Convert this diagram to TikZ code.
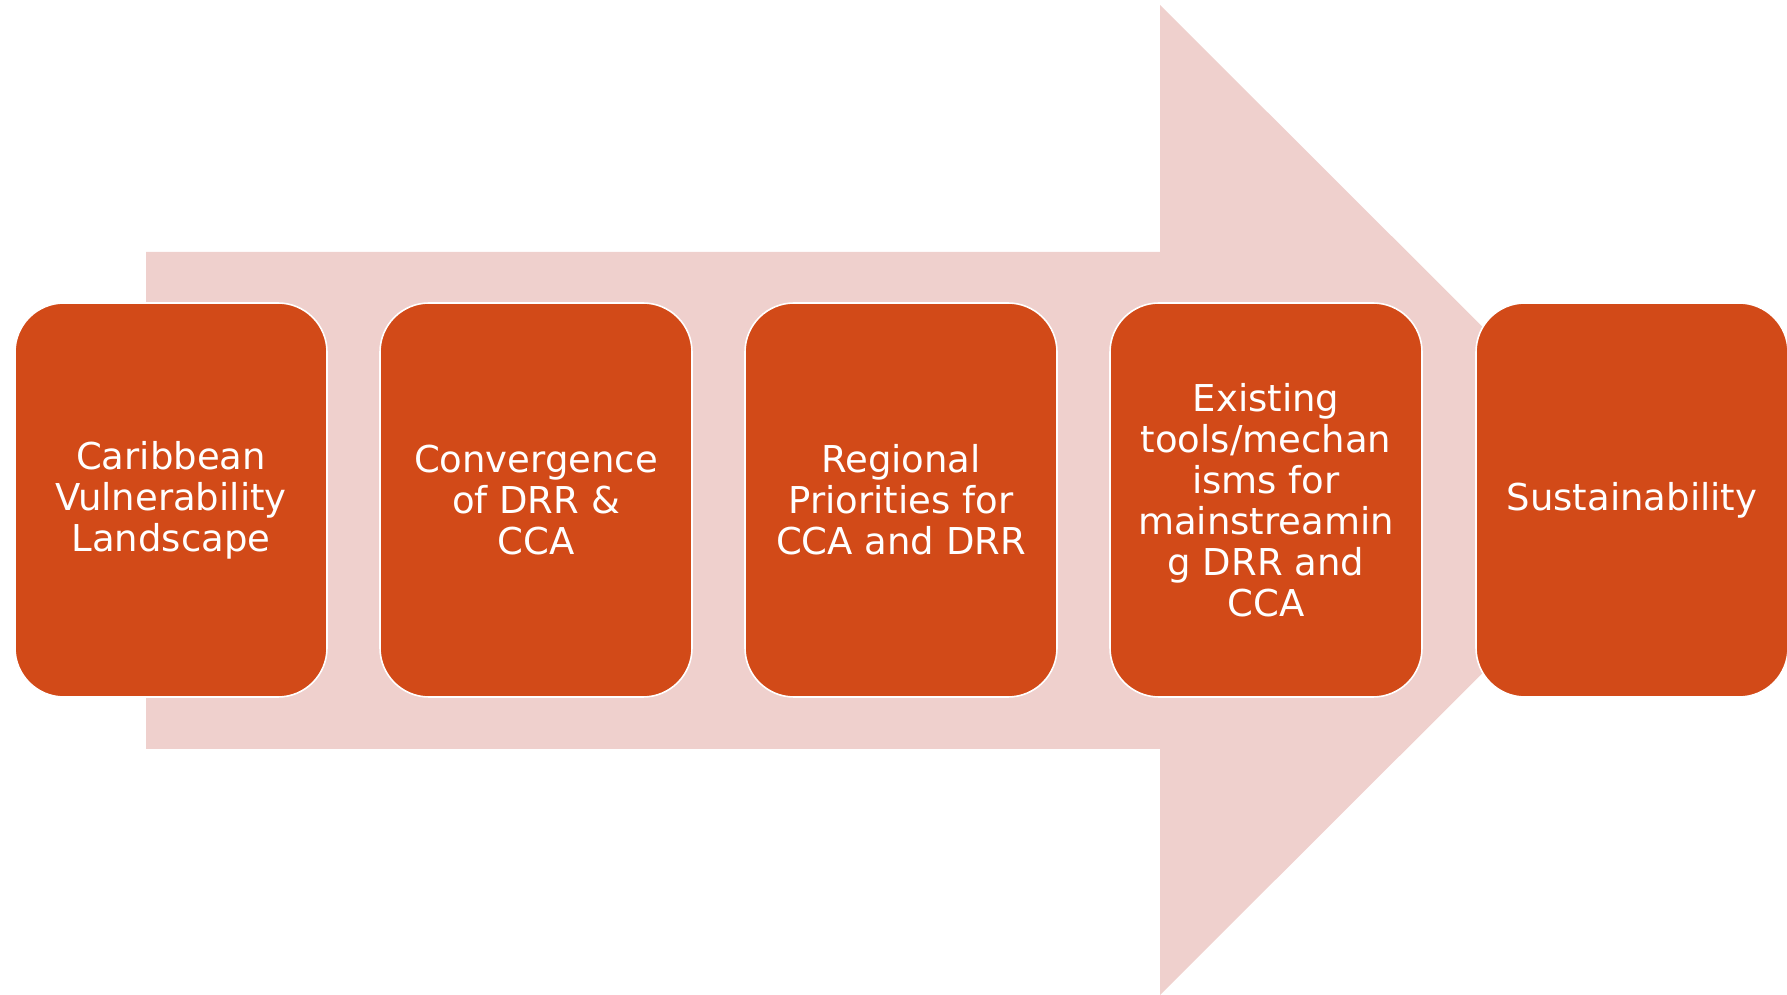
\documentclass[tikz,border=0pt]{standalone}
\usepackage{fontspec}
\setmainfont{DejaVu Sans}
\usepackage{tikz}
\definecolor{stepred}{RGB}{210,74,24}
\definecolor{arrowpink}{RGB}{239,208,205}
\tikzset{
	stagebox/.style={draw=white, line width=0.8pt, fill=stepred, rounded corners=24.5pt,
		minimum width=156pt, minimum height=197pt, align=center, text=white,
		font=\fontsize{18.5}{20.5}\selectfont},
}

\begin{document}
\begin{tikzpicture}[x=0.5pt, y=0.5pt]
		%%%%% START %%%%%
		
		\useasboundingbox (0, 0) rectangle (1787, 995);
		
		\draw[draw=none, fill=arrowpink] (146, 246) -- (1160, 246) -- (1160, 0) -- (1656, 495) -- (1160, 990) -- (1160, 743) -- (146, 743) -- cycle;
		
		\node[stagebox] (landscape) at (171, 495) {Caribbean\\Vulnerability\\Landscape};
		\node[stagebox] (convergence) at (536, 495) {Convergence\\of DRR \&\\CCA};
		\node[stagebox] (priorities) at (901, 495) {Regional\\Priorities for\\CCA and DRR};
		\node[stagebox] (tools) at (1266, 495) {Existing\\tools/mechan\\isms for\\mainstreamin\\g DRR and\\CCA};
		\node[stagebox] (sustain) at (1632, 495) {Sustainability};
		
		%%%%% END %%%%%
	\end{tikzpicture}
\end{document}
